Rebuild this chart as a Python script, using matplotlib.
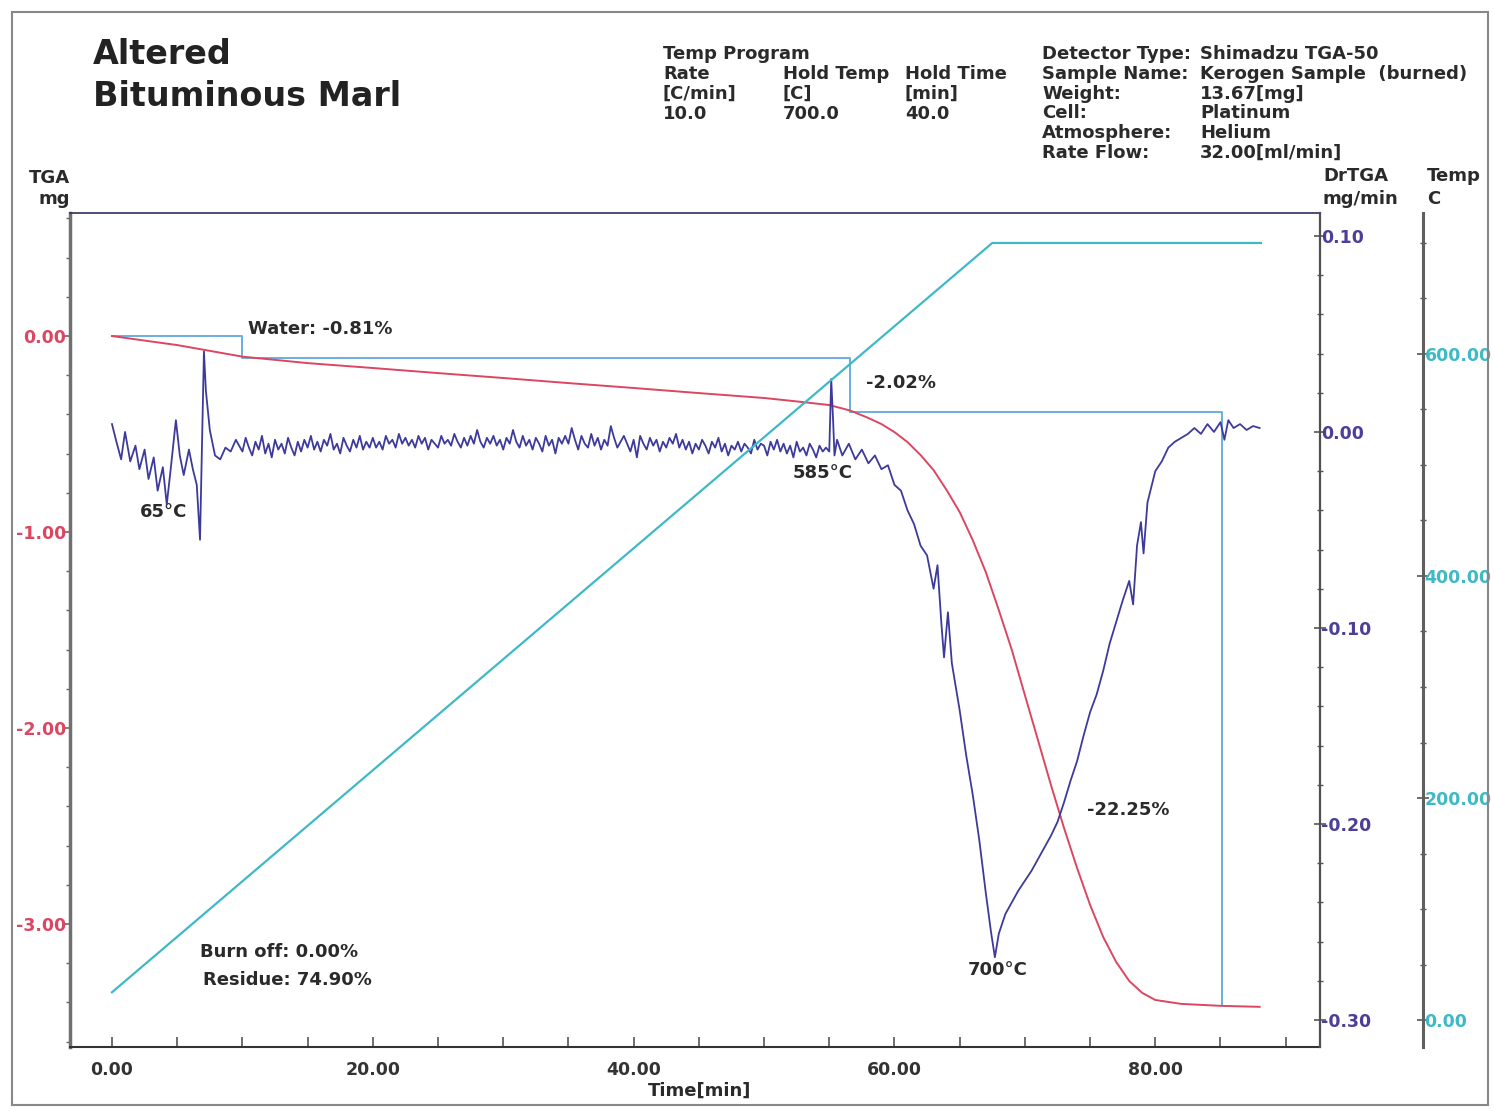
import numpy as np
import matplotlib.pyplot as plt
from matplotlib.ticker import MultipleLocator, FormatStrFormatter
from matplotlib.patches import Rectangle

plt.rcParams['font.family'] = ['DejaVu Sans']

# TGA weight curve (mg) vs time (min)
tga_time = [0, 5, 10, 15, 20, 25, 30, 35, 40, 45, 50, 53, 55, 56.6, 58, 59, 60,
            61, 62, 63, 64, 65, 66, 67, 68, 69, 70, 71, 72, 73, 74, 75, 76, 77,
            78, 79, 80, 82, 85, 88]
tga_mg = [0.0, -0.046, -0.105, -0.138, -0.163, -0.189, -0.214, -0.240, -0.265,
          -0.291, -0.316, -0.337, -0.352, -0.380, -0.418, -0.449, -0.490, -0.541,
          -0.607, -0.684, -0.786, -0.898, -1.041, -1.204, -1.398, -1.602, -1.832,
          -2.061, -2.291, -2.510, -2.714, -2.903, -3.066, -3.194, -3.291, -3.352,
          -3.388, -3.408, -3.418, -3.423]

# DrTGA curve (mg/min)
dr_time = [0, 0.3, 0.7, 1.0, 1.4, 1.8, 2.1, 2.5, 2.8, 3.2, 3.5, 3.9, 4.2, 4.5,
           4.9, 5.2, 5.5, 5.9, 6.2, 6.5, 6.75, 7.05, 7.2, 7.5, 7.9, 8.3, 8.7, 9.1,
           9.5,
           10.0, 10.25, 10.5, 10.75, 11.0, 11.25, 11.5, 11.75, 12.0, 12.25,
           12.5, 12.75, 13.0, 13.25, 13.5, 13.75, 14.0, 14.25, 14.5, 14.75,
           15.0, 15.25, 15.5, 15.75, 16.0, 16.25, 16.5, 16.75, 17.0, 17.25,
           17.5, 17.75, 18.0, 18.25, 18.5, 18.75, 19.0, 19.25, 19.5, 19.75,
           20.0, 20.25, 20.5, 20.75, 21.0, 21.25, 21.5, 21.75, 22.0, 22.25,
           22.5, 22.75, 23.0, 23.25, 23.5, 23.75, 24.0, 24.25, 24.5, 24.75,
           25.0, 25.25, 25.5, 25.75, 26.0, 26.25, 26.5, 26.75, 27.0, 27.25,
           27.5, 27.75, 28.0, 28.25, 28.5, 28.75, 29.0, 29.25, 29.5, 29.75,
           30.0, 30.25, 30.5, 30.75, 31.0, 31.25, 31.5, 31.75, 32.0, 32.25,
           32.5, 32.75, 33.0, 33.25, 33.5, 33.75, 34.0, 34.25, 34.5, 34.75,
           35.0, 35.25, 35.5, 35.75, 36.0, 36.25, 36.5, 36.75, 37.0, 37.25,
           37.5, 37.75, 38.0, 38.25, 38.5, 38.75, 39.0, 39.25, 39.5, 39.75,
           40.0, 40.25, 40.5, 40.75, 41.0, 41.25, 41.5, 41.75, 42.0, 42.25,
           42.5, 42.75, 43.0, 43.25, 43.5, 43.75, 44.0, 44.25, 44.5, 44.75,
           45.0, 45.25, 45.5, 45.75, 46.0, 46.25, 46.5, 46.75, 47.0, 47.25,
           47.5, 47.75, 48.0, 48.25, 48.5, 48.75, 49.0, 49.25, 49.5, 49.75,
           50.0, 50.25, 50.5, 50.75, 51.0, 51.25, 51.5, 51.75, 52.0, 52.25,
           52.5, 52.75, 53.0, 53.25, 53.5, 53.75, 54.0, 54.25, 54.5, 54.75,
           55.0, 55.15, 55.3, 55.4, 55.6,
           56.0, 56.5, 57.0, 57.5, 58.0, 58.5, 59.0, 59.5, 60.0, 60.5,
           61.0, 61.5, 62.0, 62.5, 63.0, 63.3, 63.6, 63.8, 64.1, 64.4,
           65.0, 65.5, 66.0, 66.5, 67.0, 67.4, 67.7, 68.0, 68.5, 69.0,
           69.5, 70.0, 70.5, 71.0, 71.5, 72.0, 72.5, 73.0, 73.5, 74.0,
           74.5, 75.0, 75.5, 76.0, 76.5, 77.0, 77.5, 78.0, 78.3, 78.6,
           78.9, 79.1, 79.4, 80.0, 80.5, 81.0, 81.5, 82.0, 82.5, 83.0,
           83.5, 84.0, 84.5, 85.0, 85.3, 85.6, 86.0, 86.5, 87.0, 87.5, 88.0]
dr_val = [0.004, -0.004, -0.014, 0.000, -0.015, -0.007, -0.019, -0.009, -0.024,
          -0.013, -0.030, -0.018, -0.037, -0.019, 0.006, -0.012, -0.022, -0.009,
          -0.019, -0.027, -0.055, 0.041, 0.021, 0.001, -0.012, -0.014, -0.008,
          -0.010, -0.004,
          -0.010, -0.003, -0.008, -0.012, -0.005, -0.009, -0.002, -0.011, -0.006, -0.013,
          -0.004, -0.009, -0.006, -0.011, -0.003, -0.008, -0.012, -0.005, -0.010, -0.004,
          -0.008, -0.002, -0.009, -0.005, -0.010, -0.004, -0.007, -0.001, -0.009, -0.006,
          -0.011, -0.003, -0.007, -0.010, -0.004, -0.008, -0.002, -0.009, -0.005, -0.008,
          -0.003, -0.008, -0.005, -0.009, -0.002, -0.006, -0.004, -0.008, -0.001, -0.006,
          -0.003, -0.007, -0.004, -0.008, -0.002, -0.006, -0.003, -0.009, -0.004, -0.006,
          -0.008, -0.002, -0.006, -0.004, -0.007, -0.001, -0.005, -0.008, -0.003, -0.007,
          -0.002, -0.006, 0.001, -0.005, -0.008, -0.003, -0.006, -0.002, -0.007, -0.004,
          -0.009, -0.003, -0.006, 0.001, -0.005, -0.008, -0.002, -0.007, -0.004, -0.009,
          -0.003, -0.006, -0.010, -0.002, -0.007, -0.004, -0.011, -0.003, -0.006, -0.002,
          -0.006, 0.002, -0.004, -0.009, -0.002, -0.006, -0.008, -0.001, -0.007, -0.003,
          -0.009, -0.004, -0.007, 0.003, -0.003, -0.008, -0.005, -0.002, -0.006, -0.010,
          -0.004, -0.013, -0.002, -0.006, -0.009, -0.003, -0.007, -0.004, -0.010, -0.005,
          -0.008, -0.003, -0.006, -0.001, -0.008, -0.004, -0.009, -0.005, -0.011, -0.006,
          -0.009, -0.004, -0.007, -0.011, -0.005, -0.008, -0.003, -0.010, -0.006, -0.012,
          -0.007, -0.009, -0.005, -0.010, -0.006, -0.008, -0.011, -0.004, -0.009, -0.006,
          -0.007, -0.012, -0.005, -0.009, -0.004, -0.010, -0.006, -0.011, -0.007, -0.013,
          -0.005, -0.010, -0.008, -0.012, -0.006, -0.009, -0.013, -0.007, -0.010, -0.008,
          -0.010, 0.027, 0.005, -0.012, -0.004,
          -0.012, -0.006, -0.014, -0.009, -0.016, -0.012, -0.019, -0.017, -0.027, -0.030,
          -0.040, -0.047, -0.058, -0.063, -0.080, -0.068, -0.098, -0.115, -0.092, -0.118,
          -0.142, -0.165, -0.185, -0.208, -0.235, -0.255, -0.268, -0.256, -0.246, -0.240,
          -0.234, -0.229, -0.224, -0.218, -0.212, -0.206, -0.199, -0.189, -0.178, -0.168,
          -0.155, -0.143, -0.134, -0.122, -0.108, -0.097, -0.086, -0.076, -0.088, -0.058,
          -0.046, -0.062, -0.036, -0.020, -0.015, -0.008, -0.005, -0.003, -0.001, 0.002,
          -0.001, 0.004, 0.000, 0.005, -0.004, 0.006, 0.002, 0.004, 0.001, 0.003, 0.002]

# Temperature program
temp_time = [0, 67.5, 88.1]
temp_c = [25, 700, 700]

# Step analysis lines (TGA units)
step_time = [0, 10.0, 10.0, 56.6, 56.6, 85.1, 85.1]
step_mg = [0, 0, -0.11, -0.11, -0.387, -0.387, -3.413]

red = '#dc4660'
navy = '#3d3a9c'
cyan = '#3fb9c6'
steel = '#6aaee0'

fig = plt.figure(figsize=(14.94, 11.11), dpi=100)
ax = fig.add_axes([70 / 1494, 1 - 1047 / 1111, 1250 / 1494, 834 / 1111])
ax2 = ax.twinx()
ax3 = ax.twinx()

ax.plot(step_time, step_mg, color=steel, lw=1.4, zorder=2)
ax.plot(tga_time, tga_mg, color=red, lw=1.4, zorder=3)
ax2.plot(dr_time, dr_val, color=navy, lw=1.3)
ax3.plot(temp_time, temp_c, color=cyan, lw=1.6)

ax.set_xlim(-3.22, 92.63)
ax.set_ylim(-3.628, 0.628)
ax2.set_ylim(-0.3138, 0.1117)
ax3.set_ylim(-24.3, 727)

# x axis
ax.xaxis.set_major_locator(MultipleLocator(20))
ax.xaxis.set_minor_locator(MultipleLocator(5))
ax.xaxis.set_major_formatter(FormatStrFormatter('%.2f'))
ax.tick_params(axis='x', which='both', direction='in', length=7, width=1.2,
               colors='#555555', pad=10)
for lbl in ax.get_xticklabels():
    lbl.set_color('#333333')
    lbl.set_fontsize(12.5)
    lbl.set_fontweight('bold')

# TGA axis
ax.yaxis.set_major_locator(MultipleLocator(1))
ax.yaxis.set_minor_locator(MultipleLocator(0.2))
ax.yaxis.set_major_formatter(FormatStrFormatter('%.2f'))
ax.tick_params(axis='y', which='major', direction='out', length=5, width=1.2,
               colors='#666666', labelcolor=red, labelsize=12.5, pad=-2)
ax.tick_params(axis='y', which='minor', direction='out', length=3, width=1,
               colors='#666666')

# DrTGA axis
ax2.yaxis.set_major_locator(MultipleLocator(0.1))
ax2.yaxis.set_minor_locator(MultipleLocator(0.02))
ax2.yaxis.set_major_formatter(FormatStrFormatter('%.2f'))
ax2.tick_params(axis='y', which='major', direction='inout', length=8, width=1.2,
                colors='#555555', labelcolor='#4b3f98', labelsize=12.5, pad=-3)
ax2.tick_params(axis='y', which='minor', direction='inout', length=5, width=1,
                colors='#555555')

# Temp axis
ax3.spines['right'].set_position(('axes', 1.0824))
ax3.yaxis.set_major_locator(MultipleLocator(200))
ax3.yaxis.set_minor_locator(MultipleLocator(50))
ax3.yaxis.set_major_formatter(FormatStrFormatter('%.2f'))
ax3.tick_params(axis='y', which='major', direction='inout', length=8, width=1.2,
                colors='#555555', labelcolor=cyan, labelsize=12.5, pad=-3)
ax3.tick_params(axis='y', which='minor', direction='inout', length=5, width=1,
                colors='#555555')

for a in (ax, ax2, ax3):
    for lbl in a.get_yticklabels():
        lbl.set_fontweight('bold')

# spines
ax.spines['right'].set_visible(False)
ax.spines['top'].set_color('#2e2e5e')
ax.spines['top'].set_linewidth(1.2)
ax.spines['left'].set_color('#707070')
ax.spines['left'].set_linewidth(2.5)
ax.spines['bottom'].set_color('#333333')
ax.spines['bottom'].set_linewidth(1.5)
for s in ('left', 'top', 'bottom'):
    ax2.spines[s].set_visible(False)
    ax3.spines[s].set_visible(False)
ax2.spines['right'].set_color('#505050')
ax2.spines['right'].set_linewidth(1.6)
ax3.spines['right'].set_color('#606060')
ax3.spines['right'].set_linewidth(2.2)

# annotations (TGA data coordinates)
note = dict(fontsize=13, fontweight='bold', color='#2a2a2a', va='center')
ax.text(10.4, 0.036, 'Water: -0.81%', **note)
ax.text(57.8, -0.24, '-2.02%', **note)
ax.text(74.8, -2.418, '-22.25%', **note)
ax.text(2.15, -0.898, '65°C', **note)
ax.text(52.2, -0.699, '585°C', **note)
ax.text(65.6, -3.235, '700°C', **note)
ax.text(6.75, -3.143, 'Burn off: 0.00%', **note)
ax.text(6.98, -3.286, 'Residue: 74.90%', **note)

# axis titles
def ftext(x, y, s, **kw):
    fig.text(x / 1494, 1 - y / 1111, s, **kw)

hdr = dict(fontsize=13, fontweight='bold', color='#2a2a2a', va='center')
ftext(70, 178, 'TGA', ha='right', **hdr)
ftext(70, 199, 'mg', ha='right', **hdr)
ftext(1323, 176, 'DrTGA', ha='left', **hdr)
ftext(1323, 199, 'mg/min', ha='left', **hdr)
ftext(1427, 176, 'Temp', ha='left', **hdr)
ftext(1427, 199, 'C', ha='left', **hdr)
ftext(700, 1091, 'Time[min]', ha='center', **hdr)

# title
ftext(93, 55, 'Altered', ha='left', fontsize=24, fontweight='bold',
      color='#222222', va='center')
ftext(93, 96, 'Bituminous Marl', ha='left', fontsize=24, fontweight='bold',
      color='#222222', va='center')

# instrument info
info = dict(fontsize=13, fontweight='bold', color='#2a2a2a', va='center', ha='left')
ftext(663, 54, 'Temp Program', **info)
prog_cols = [663, 783, 905]
prog_rows = [['Rate', 'Hold Temp', 'Hold Time'],
             ['[C/min]', '[C]', '[min]'],
             ['10.0', '700.0', '40.0']]
for r, row in enumerate(prog_rows):
    for c, s in enumerate(row):
        ftext(prog_cols[c], 74 + 20 * r, s, **info)

info_keys = ['Detector Type:', 'Sample Name:', 'Weight:', 'Cell:',
             'Atmosphere:', 'Rate Flow:']
info_vals = ['Shimadzu TGA-50', 'Kerogen Sample  (burned)', '13.67[mg]',
             'Platinum', 'Helium', '32.00[ml/min]']
for i, (k, v) in enumerate(zip(info_keys, info_vals)):
    ftext(1042, 54 + 19.8 * i, k, **info)
    ftext(1200, 54 + 19.8 * i, v, **info)

# outer frame
fig.patches.append(Rectangle((12 / 1494, 6 / 1111), 1476 / 1494, 1093 / 1111,
                             transform=fig.transFigure, fill=False,
                             edgecolor='#888888', lw=1.5))

fig.savefig('out.png', dpi=100, facecolor='white')
